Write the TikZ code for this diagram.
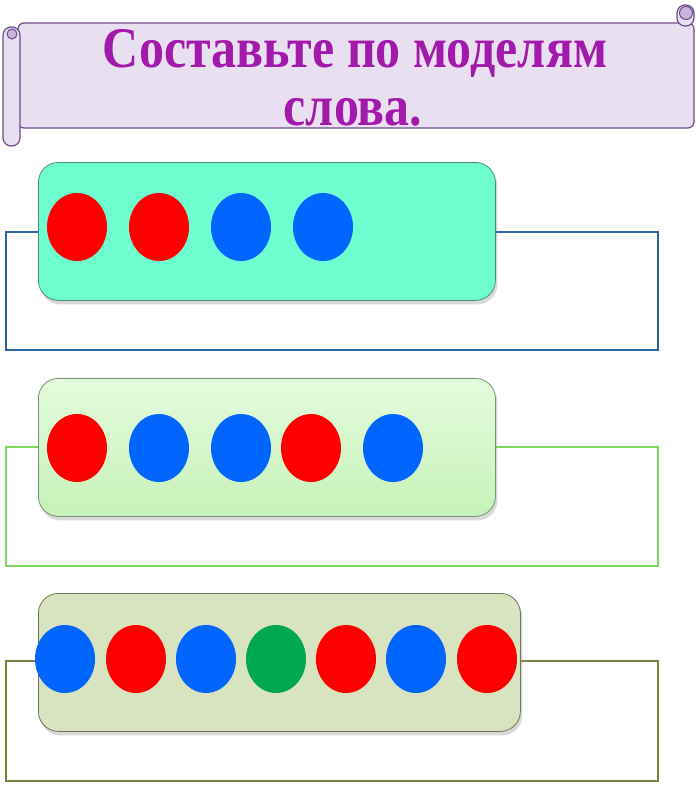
\documentclass[tikz,border=0pt]{standalone}
\usepackage{fontspec}
\setmainfont{Liberation Serif}
\usetikzlibrary{positioning,shadows,shapes.geometric}
\definecolor{scrollline}{HTML}{6E4C8E}
\definecolor{scrollfill}{HTML}{E8E0F0}
\definecolor{scrollroll}{HTML}{C9B5DA}
\definecolor{titlecol}{HTML}{A21AAB}
\definecolor{dotred}{HTML}{FF0000}
\definecolor{dotblue}{HTML}{0066FF}
\definecolor{dotgreen}{HTML}{00A94F}
\definecolor{boxA}{HTML}{6EFDCF}
\definecolor{boxAline}{HTML}{4E8A78}
\definecolor{boxBtop}{HTML}{E4FBDD}
\definecolor{boxBbot}{HTML}{C6F2B8}
\definecolor{boxBline}{HTML}{76907A}
\definecolor{boxC}{HTML}{D8E4C0}
\definecolor{boxCline}{HTML}{6E7458}
\definecolor{frameA}{HTML}{2E63A6}
\definecolor{frameB}{HTML}{80D65C}
\definecolor{frameC}{HTML}{808040}
\newcommand{\tall}[1]{\scalebox{1}[1.15]{#1}}

\begin{document}
\begin{tikzpicture}[x=1pt, y=-1pt,
    scroll/.style={draw=scrollline, line width=1.2pt, fill=scrollfill},
    curl/.style={draw=scrollline, line width=1pt, fill=scrollroll},
    title/.style={text=titlecol, anchor=base, inner sep=0,
      font=\fontsize{50}{54}\selectfont\bfseries},
    model/.style={rounded corners=20pt, line width=0.8pt, anchor=north west,
      minimum height=138pt, inner sep=0,
      drop shadow={opacity=0.3, shadow xshift=2pt, shadow yshift=-4pt}},
    frame/.style={line width=1.4pt},
    dot/.style={ellipse, minimum width=60pt, minimum height=68pt, inner sep=0}]
  \useasboundingbox (0,0) rectangle (696,792);

  \draw[scroll, rounded corners=6pt] (18,23) rectangle (694,128);
  \draw[scroll, rounded corners=8pt] (3,27) rectangle (20,146);
  \node[curl, circle, minimum size=10pt, inner sep=0] (curlL) at (12,34) {};
  \draw[scroll, rounded corners=8pt] (677,5) rectangle (694,26);
  \node[curl, circle, minimum size=13pt, inner sep=0] (curlR) at (686,13) {};

  \node[title] (line1) at (355,67) {\tall{Составьте по моделям}};
  \node[title] (line2) at (353,125) {\tall{слова.}};

  \coordinate (fA) at (6,232);
  \coordinate (fB) at (6,447);
  \coordinate (fC) at (6,661);
  \draw[frame, draw=frameA] (fA) rectangle (658,350);
  \draw[frame, draw=frameB] (fB) rectangle (658,566);
  \draw[frame, draw=frameC] (fC) rectangle (658,781);

  \node[model, draw=boxAline, fill=boxA, minimum width=457pt] (box1) at (38,162) {};
  \node[model, draw=boxBline, top color=boxBtop, bottom color=boxBbot,
    minimum width=457pt] (box2) at (38,378) {};
  \node[model, draw=boxCline, fill=boxC, minimum width=482pt] (box3) at (38,593) {};

  \foreach \x/\c [count=\i] in {77/dotred,159/dotred,241/dotblue,323/dotblue}
    \node[dot, fill=\c] (a\i) at (\x,227) {};
  \foreach \x/\c [count=\i] in {77/dotred,159/dotblue,241/dotblue,311/dotred,393/dotblue}
    \node[dot, fill=\c] (b\i) at (\x,448) {};
  \foreach \x/\c [count=\i] in {65/dotblue,136/dotred,206/dotblue,276/dotgreen,
      346/dotred,416/dotblue,487/dotred}
    \node[dot, fill=\c] (c\i) at (\x,659) {};
\end{tikzpicture}
\end{document}
